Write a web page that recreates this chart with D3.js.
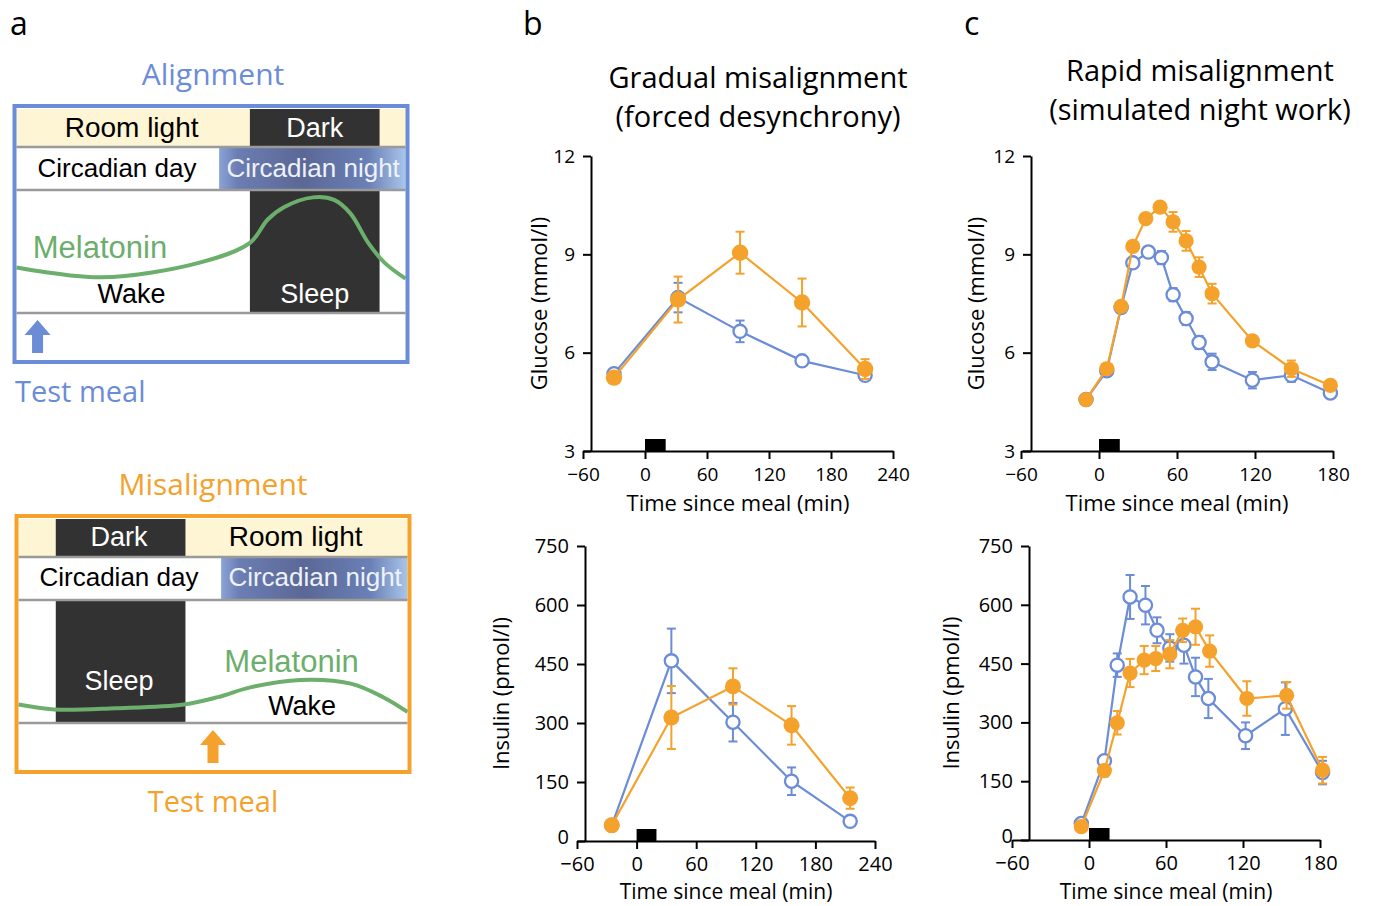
<!DOCTYPE html>
<html>
<head>
<meta charset="utf-8">
<script src="https://cdn.jsdelivr.net/npm/d3@7"></script>
<style>
  body { margin: 0; background: #fff; }
  text { font-family: "Open Sans", sans-serif; }
  .schem text { font-family: "Liberation Sans", Arial, sans-serif; }
</style>
</head>
<body>
<svg id="fig" width="1373" height="906"></svg>
<script>
var blue = "#6b8cd7", orange = "#f4a22c", green = "#6cae6c",
    cream = "#fdf5d4", dark = "#323232", grey = "#9a9a9a";

// ---- panel a : schematic, positions in clock hours over one 24 h box ----
var nightStart = 12.5;
var alignDark = [14.4, 22.4], misDark = [2.3, 10.3];
var alignMeal = 1.3, misMeal = 12;
var alignMel = [[0, 0.37], [5.2, 0.29], [11.3, 0.41], [14.4, 0.57], [15.5, 0.76], [16.5, 0.86],
                [18.3, 0.94], [19.6, 0.92], [20.6, 0.81], [21.7, 0.57], [22.7, 0.41], [24, 0.28]];
var misMel = [[0, 0.15], [2.2, 0.11], [6, 0.12], [10.2, 0.15], [12.3, 0.21], [14.3, 0.29],
              [17.4, 0.35], [20.5, 0.32], [22.5, 0.21], [24, 0.09]];

// ---- panel b : gradual misalignment ----
var bTimeGlu = [-30, 32, 92, 152, 213];
var bGluAlign = [5.36, 7.68, 6.65, 5.75, 5.31];
var bGluAlignErr = [0.08, 0.45, 0.33, 0.08, 0.08];
var bGluMis = [5.24, 7.62, 9.05, 7.53, 5.50];
var bGluMisErr = [0.08, 0.70, 0.64, 0.73, 0.30];

var bTimeIns = [-25, 35, 97, 156, 215];
var bInsAlign = [40, 458, 302, 152, 50];
var bInsAlignErr = [5, 82, 49, 35, 6];
var bInsMis = [40, 314, 393, 294, 109];
var bInsMisErr = [5, 80, 46, 49, 27];

// ---- panel c : rapid misalignment ----
var cTimeGluAlign = [-10, 6, 17, 26, 38, 48, 57, 67, 77, 87, 118, 148, 178];
var cGluAlign = [4.57, 5.45, 7.38, 8.74, 9.07, 8.90, 7.77, 7.04, 6.31, 5.72, 5.16, 5.31, 4.77];
var cGluAlignErr = [0.08, 0.1, 0.1, 0.15, 0.15, 0.2, 0.2, 0.2, 0.2, 0.25, 0.25, 0.2, 0.1];
var cTimeGluMis = [-10, 6, 17, 26, 36, 47, 57, 67, 77, 87, 118, 148, 178];
var cGluMis = [4.57, 5.51, 7.41, 9.24, 10.09, 10.44, 9.99, 9.41, 8.61, 7.80, 6.36, 5.51, 5.00];
var cGluMisErr = [0.08, 0.1, 0.1, 0.1, 0.1, 0.1, 0.3, 0.3, 0.3, 0.3, 0.1, 0.25, 0.1];

var cTimeInsAlign = [-6, 12, 22, 32, 44, 53, 63, 74, 83, 93, 122, 153, 182];
var cInsAlign = [42, 202, 446, 620, 599, 535, 490, 497, 416, 361, 266, 335, 172];
var cInsAlignErr = [5, 12, 30, 56, 49, 33, 35, 47, 49, 50, 34, 67, 30];
var cTimeInsMis = [-6, 12, 22, 32, 43, 52, 63, 73, 83, 94, 123, 154, 182];
var cInsMis = [34, 177, 299, 426, 459, 463, 474, 535, 544, 482, 361, 369, 178];
var cInsMisErr = [5, 15, 30, 36, 36, 32, 36, 30, 46, 40, 44, 34, 34];

var gluTicks = [3, 6, 9, 12], insTicks = [0, 150, 300, 450, 600, 750];
var xTicksB = [-60, 0, 60, 120, 180, 240], xTicksC = [-60, 0, 60, 120, 180];

var svg = d3.select("#fig");
svg.append("rect").attr("width", 1373).attr("height", 906).attr("fill", "#fff");

var defs = svg.append("defs");
var grad = defs.append("linearGradient").attr("id", "nightGrad");
[["0%", "#8ba3d6"], ["10%", "#6b7db2"], ["45%", "#5b6896"], ["80%", "#6a80b6"], ["100%", "#a8c5ea"]]
  .forEach(function (s) { grad.append("stop").attr("offset", s[0]).attr("stop-color", s[1]); });

// panel letters
[["a", 10], ["b", 523], ["c", 964]].forEach(function (l) {
  svg.append("text").attr("x", l[1]).attr("y", 35).attr("font-size", 32).text(l[0]);
});

function drawScheme(s) {
  var g = svg.append("g").attr("class", "schem");
  var h = d3.scaleLinear().domain([0, 24]).range([s.left, s.right]);
  var r1 = s.top, r2 = r1 + 38, r3 = r2 + 43, r4 = r3 + 123, bottom = r4 + 49;
  var lv = d3.scaleLinear().domain([0, 1]).range([r4, r3]);

  // row 1: light / dark
  g.append("rect").attr("x", h(0)).attr("y", r1).attr("width", h(24) - h(0)).attr("height", r2 - r1).attr("fill", cream);
  g.append("rect").attr("x", h(s.dark[0])).attr("y", r1).attr("width", h(s.dark[1]) - h(s.dark[0]))
    .attr("height", r2 - r1).attr("fill", dark);
  // row 2: circadian night
  g.append("rect").attr("x", h(nightStart)).attr("y", r2).attr("width", h(24) - h(nightStart))
    .attr("height", r3 - r2).attr("fill", "url(#nightGrad)");
  // row 3: sleep
  g.append("rect").attr("x", h(s.dark[0])).attr("y", r3).attr("width", h(s.dark[1]) - h(s.dark[0]))
    .attr("height", r4 - r3).attr("fill", dark);
  // separators
  [r2, r3, r4].forEach(function (yy) {
    g.append("line").attr("x1", h(0)).attr("x2", h(24)).attr("y1", yy).attr("y2", yy)
      .attr("stroke", grey).attr("stroke-width", 2.5);
  });
  // melatonin
  g.append("path").datum(s.mel)
    .attr("d", d3.line().x(function (d) { return h(d[0]); }).y(function (d) { return lv(d[1]); })
      .curve(d3.curveCatmullRom))
    .attr("fill", "none").attr("stroke", green).attr("stroke-width", 4);
  // meal arrow
  var ax = h(s.meal), at = r4 + 7, ab = r4 + 40;
  g.append("path")
    .attr("d", "M" + ax + "," + at + "L" + (ax + 13) + "," + (at + 15) + "L" + (ax + 5.5) + "," + (at + 15) +
      "L" + (ax + 5.5) + "," + ab + "L" + (ax - 5.5) + "," + ab + "L" + (ax - 5.5) + "," + (at + 15) +
      "L" + (ax - 13) + "," + (at + 15) + "Z")
    .attr("fill", s.color);
  // frame
  g.append("rect").attr("x", h(0) - 2).attr("y", r1 - 3).attr("width", h(24) - h(0) + 4)
    .attr("height", bottom - r1 + 3).attr("fill", "none").attr("stroke", s.color).attr("stroke-width", 4);

  // labels
  s.labels.forEach(function (l) {
    var rowTop = [r1, r2, r3][l.row];
    g.append("text").attr("x", h(l.h)).attr("y", rowTop + l.dy)
      .attr("text-anchor", l.anchor || "middle").attr("font-size", l.size || 26)
      .attr("fill", l.fill || "#000").text(l.t);
  });
  svg.append("text").attr("x", s.titleX).attr("y", s.titleY).attr("text-anchor", "middle")
    .attr("font-size", 30).attr("fill", s.color).text(s.title);
  svg.append("text").attr("x", s.mealX).attr("y", s.mealY).attr("text-anchor", s.mealAnchor)
    .attr("font-size", 29).attr("fill", s.color).text("Test meal");
}

drawScheme({
  left: 16.5, right: 405.5, top: 109, color: blue, dark: alignDark, meal: alignMeal, mel: alignMel,
  title: "Alignment", titleX: 213, titleY: 85, mealX: 15, mealY: 402, mealAnchor: "start",
  labels: [
    { t: "Room light", h: 7.1, row: 0, dy: 28, size: 28 },
    { t: "Dark", h: 18.4, row: 0, dy: 28, size: 27, fill: "#fff" },
    { t: "Circadian day", h: 6.2, row: 1, dy: 30 },
    { t: "Circadian night", h: 18.3, row: 1, dy: 30, fill: "#eef2fa" },
    { t: "Melatonin", h: 1.0, row: 2, dy: 68, size: 31, fill: green, anchor: "start" },
    { t: "Wake", h: 7.1, row: 2, dy: 113, size: 27 },
    { t: "Sleep", h: 18.4, row: 2, dy: 113, size: 27, fill: "#fff" }
  ]
});

drawScheme({
  left: 18.5, right: 407.5, top: 519, color: orange, dark: misDark, meal: misMeal, mel: misMel,
  title: "Misalignment", titleX: 213, titleY: 495, mealX: 213, mealY: 812, mealAnchor: "middle",
  labels: [
    { t: "Dark", h: 6.2, row: 0, dy: 27, size: 27, fill: "#fff" },
    { t: "Room light", h: 17.1, row: 0, dy: 27, size: 28 },
    { t: "Circadian day", h: 6.2, row: 1, dy: 29 },
    { t: "Circadian night", h: 18.3, row: 1, dy: 29, fill: "#eef2fa" },
    { t: "Melatonin", h: 12.7, row: 2, dy: 72, size: 31, fill: green, anchor: "start" },
    { t: "Wake", h: 17.5, row: 2, dy: 115, size: 27 },
    { t: "Sleep", h: 6.2, row: 2, dy: 90, size: 27, fill: "#fff" }
  ]
});

// ---- line charts ----
function zip(t, v, e) { return t.map(function (d, i) { return { t: d, v: v[i], e: e[i] }; }); }

function drawChart(c) {
  var g = svg.append("g");
  var x = d3.scaleLinear().domain(c.xDomain).range(c.xRange);
  var y = d3.scaleLinear().domain(c.yDomain).range(c.yRange);

  var xa = g.append("g").attr("transform", "translate(0," + c.yRange[0] + ")")
    .call(d3.axisBottom(x).tickValues(c.xTicks).tickSize(8).tickSizeOuter(0).tickPadding(c.xPad));
  var ya = g.append("g").attr("transform", "translate(" + c.yAxisX + ",0)")
    .call(d3.axisLeft(y).tickValues(c.yTicks).tickSize(8).tickSizeOuter(0).tickPadding(8));
  [xa, ya].forEach(function (a) {
    a.selectAll("path, line").attr("stroke", "#000").attr("stroke-width", 2);
    a.selectAll("text").attr("font-size", c.tickFont).attr("fill", "#000")
      .style("font-family", "'Open Sans', sans-serif");
  });
  // the "0" label sits a little above its tick, clear of "-60"
  ya.selectAll(".tick text").filter(function (d) { return d === 0; }).attr("y", -4);

  // meal bar
  g.append("rect").attr("x", x(0)).attr("y", c.yRange[0] - 12).attr("width", x(c.mealEnd) - x(0))
    .attr("height", 12).attr("fill", "#000");

  c.series.forEach(function (s) {
    var line = d3.line().x(function (d) { return x(d.t); }).y(function (d) { return y(d.v); });
    g.append("path").datum(s.data).attr("d", line).attr("fill", "none")
      .attr("stroke", s.color).attr("stroke-width", 2.2);
    var eb = g.selectAll(null).data(s.data).enter().append("g").attr("stroke", s.color).attr("stroke-width", 2);
    eb.append("line").attr("x1", function (d) { return x(d.t); }).attr("x2", function (d) { return x(d.t); })
      .attr("y1", function (d) { return y(d.v - d.e); }).attr("y2", function (d) { return y(d.v + d.e); });
    eb.append("line").attr("x1", function (d) { return x(d.t) - 4.5; }).attr("x2", function (d) { return x(d.t) + 4.5; })
      .attr("y1", function (d) { return y(d.v + d.e); }).attr("y2", function (d) { return y(d.v + d.e); });
    eb.append("line").attr("x1", function (d) { return x(d.t) - 4.5; }).attr("x2", function (d) { return x(d.t) + 4.5; })
      .attr("y1", function (d) { return y(d.v - d.e); }).attr("y2", function (d) { return y(d.v - d.e); });
    g.selectAll(null).data(s.data).enter().append("circle")
      .attr("cx", function (d) { return x(d.t); }).attr("cy", function (d) { return y(d.v); })
      .attr("r", s.open ? 6.6 : c.dotR)
      .attr("fill", s.open ? "#fff" : s.color)
      .attr("stroke", s.open ? s.color : "none").attr("stroke-width", 2.3);
  });

  g.append("text").attr("transform", "translate(" + (c.yAxisX + c.yLabelOff) + "," + ((c.yRange[0] + c.yRange[1]) / 2) + ") rotate(-90)")
    .attr("text-anchor", "middle").attr("font-size", 22).text(c.yLabel);
  g.append("text").attr("x", (c.xRange[0] + c.xRange[1]) / 2).attr("y", c.yRange[0] + c.titleOff)
    .attr("text-anchor", "middle").attr("font-size", c.titleFont).text("Time since meal (min)");
}

drawChart({
  xDomain: [-60, 240], xRange: [583, 893], yDomain: [3, 12], yRange: [451, 156], yAxisX: 591,
  xTicks: xTicksB, yTicks: gluTicks, mealEnd: 20, yLabel: "Glucose (mmol/l)", yLabelOff: -44, dotR: 8.2,
  tickFont: 19, xPad: 9, titleOff: 60, titleFont: 22,
  series: [
    { data: zip(bTimeGlu, bGluAlign, bGluAlignErr), color: blue, open: true },
    { data: zip(bTimeGlu, bGluMis, bGluMisErr), color: orange, open: false }
  ]
});
drawChart({
  xDomain: [-60, 240], xRange: [577, 875], yDomain: [0, 750], yRange: [841, 546], yAxisX: 585,
  xTicks: xTicksB, yTicks: insTicks, mealEnd: 20, yLabel: "Insulin (pmol/l)", yLabelOff: -76, dotR: 8,
  tickFont: 20, xPad: 8, titleOff: 58, titleFont: 21,
  series: [
    { data: zip(bTimeIns, bInsAlign, bInsAlignErr), color: blue, open: true },
    { data: zip(bTimeIns, bInsMis, bInsMisErr), color: orange, open: false }
  ]
});
drawChart({
  xDomain: [-60, 180], xRange: [1021, 1333], yDomain: [3, 12], yRange: [451, 156], yAxisX: 1031,
  xTicks: xTicksC, yTicks: gluTicks, mealEnd: 16, yLabel: "Glucose (mmol/l)", yLabelOff: -47, dotR: 7.6,
  tickFont: 19, xPad: 9, titleOff: 60, titleFont: 22,
  series: [
    { data: zip(cTimeGluAlign, cGluAlign, cGluAlignErr), color: blue, open: true },
    { data: zip(cTimeGluMis, cGluMis, cGluMisErr), color: orange, open: false }
  ]
});
drawChart({
  xDomain: [-60, 180], xRange: [1012, 1320], yDomain: [0, 750], yRange: [840, 546], yAxisX: 1029,
  xTicks: xTicksC, yTicks: insTicks, mealEnd: 16, yLabel: "Insulin (pmol/l)", yLabelOff: -70, dotR: 7.6,
  tickFont: 20, xPad: 8, titleOff: 59, titleFont: 21,
  series: [
    { data: zip(cTimeInsAlign, cInsAlign, cInsAlignErr), color: blue, open: true },
    { data: zip(cTimeInsMis, cInsMis, cInsMisErr), color: orange, open: false }
  ]
});

// panel titles
[["Gradual misalignment", 758, 88], ["(forced desynchrony)", 758, 127],
 ["Rapid misalignment", 1200, 81], ["(simulated night work)", 1200, 120]].forEach(function (t) {
  svg.append("text").attr("x", t[1]).attr("y", t[2]).attr("text-anchor", "middle")
    .attr("font-size", 29).text(t[0]);
});
</script>
</body>
</html>
